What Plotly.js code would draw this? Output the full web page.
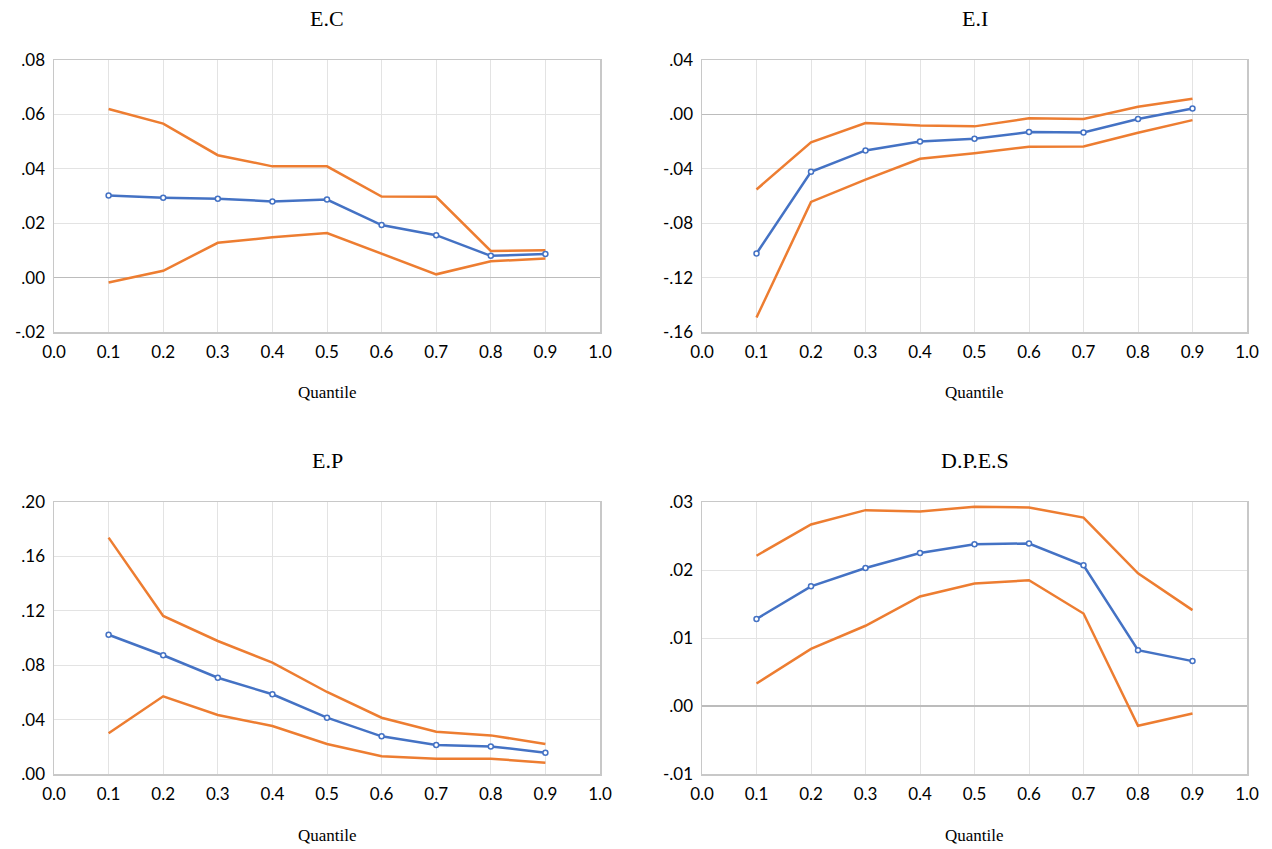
<!DOCTYPE html>
<html>
<head>
<meta charset="utf-8">
<script src="https://cdn.plot.ly/plotly-3.0.1.min.js"></script>
<style>
html,body{margin:0;padding:0;background:#fff;}
#chart{width:1272px;height:849px;}
</style>
</head>
<body>
<div id="chart"></div>
<script>
// ---- Data ----
const quantiles = [0.1, 0.2, 0.3, 0.4, 0.5, 0.6, 0.7, 0.8, 0.9];

const ecCoef  = [0.0302, 0.0294, 0.0290, 0.0280, 0.0287, 0.0193, 0.0156, 0.0080, 0.0087];
const ecUpper = [0.0620, 0.0566, 0.0450, 0.0409, 0.0409, 0.0298, 0.0297, 0.0098, 0.0101];
const ecLower = [-0.0018, 0.0025, 0.0128, 0.0148, 0.0164, 0.0087, 0.0012, 0.0060, 0.0070];

const eiCoef  = [-0.1023, -0.0422, -0.0265, -0.0199, -0.0179, -0.0130, -0.0133, -0.0034, 0.0044];
const eiUpper = [-0.0552, -0.0206, -0.0064, -0.0081, -0.0088, -0.0029, -0.0034, 0.0056, 0.0115];
const eiLower = [-0.1494, -0.0643, -0.0479, -0.0326, -0.0285, -0.0238, -0.0236, -0.0135, -0.0042];

const epCoef  = [0.1024, 0.0873, 0.0708, 0.0586, 0.0414, 0.0277, 0.0213, 0.0203, 0.0157];
const epUpper = [0.1738, 0.1162, 0.0978, 0.0819, 0.0603, 0.0414, 0.0311, 0.0284, 0.0221];
const epLower = [0.0299, 0.0571, 0.0434, 0.0353, 0.0221, 0.0130, 0.0113, 0.0113, 0.0083];

const dpesCoef  = [0.0128, 0.0176, 0.0203, 0.0225, 0.0238, 0.0239, 0.0207, 0.0082, 0.0066];
const dpesUpper = [0.0221, 0.0267, 0.0288, 0.0286, 0.0293, 0.0292, 0.0277, 0.0195, 0.0141];
const dpesLower = [0.0033, 0.0084, 0.0118, 0.0161, 0.0180, 0.0185, 0.0136, -0.0029, -0.0011];

const panelTitles = ['E.C', 'E.I', 'E.P', 'D.P.E.S'];
const xAxisTitle = 'Quantile';

const xTickVals = [0.0, 0.1, 0.2, 0.3, 0.4, 0.5, 0.6, 0.7, 0.8, 0.9, 1.0];
const xTickText = ['0.0', '0.1', '0.2', '0.3', '0.4', '0.5', '0.6', '0.7', '0.8', '0.9', '1.0'];

const ecTickVals = [-0.02, 0.00, 0.02, 0.04, 0.06, 0.08];
const ecTickText = ['-.02', '.00', '.02', '.04', '.06', '.08'];
const eiTickVals = [-0.16, -0.12, -0.08, -0.04, 0.00, 0.04];
const eiTickText = ['-.16', '-.12', '-.08', '-.04', '.00', '.04'];
const epTickVals = [0.00, 0.04, 0.08, 0.12, 0.16, 0.20];
const epTickText = ['.00', '.04', '.08', '.12', '.16', '.20'];
const dpesTickVals = [-0.01, 0.00, 0.01, 0.02, 0.03];
const dpesTickText = ['-.01', '.00', '.01', '.02', '.03'];

// ---- Styles ----
const BLUE = '#4472C4';
const ORANGE = '#ED7D31';
const W = 1272, H = 849;
const TICKFONT = {family: 'Lato, "Liberation Sans", sans-serif', size: 17, color: '#000'};
const SERIF = '"Liberation Serif", "Times New Roman", serif';

const panels = [
  {coef: ecCoef, up: ecUpper, lo: ecLower, tv: ecTickVals, tt: ecTickText, range: [-0.02, 0.08], px: [54, 600], py: [60, 332]},
  {coef: eiCoef, up: eiUpper, lo: eiLower, tv: eiTickVals, tt: eiTickText, range: [-0.16, 0.04], px: [702, 1247], py: [60, 332]},
  {coef: epCoef, up: epUpper, lo: epLower, tv: epTickVals, tt: epTickText, range: [0, 0.20], px: [54, 600], py: [502, 774]},
  {coef: dpesCoef, up: dpesUpper, lo: dpesLower, tv: dpesTickVals, tt: dpesTickText, range: [-0.01, 0.03], px: [702, 1247], py: [502, 774]}
];

const traces = [];
const layout = {
  width: W, height: H,
  margin: {l: 0, r: 0, t: 0, b: 0},
  paper_bgcolor: '#fff',
  plot_bgcolor: '#fff',
  showlegend: false,
  font: TICKFONT,
  annotations: []
};

panels.forEach((p, i) => {
  const n = i === 0 ? '' : String(i + 1);
  const xa = 'x' + n, ya = 'y' + n;
  traces.push({x: quantiles, y: p.up, xaxis: xa, yaxis: ya, mode: 'lines', line: {color: ORANGE, width: 2.5}});
  traces.push({x: quantiles, y: p.lo, xaxis: xa, yaxis: ya, mode: 'lines', line: {color: ORANGE, width: 2.5}});
  traces.push({x: quantiles, y: p.coef, xaxis: xa, yaxis: ya, mode: 'lines+markers',
    line: {color: BLUE, width: 2.5},
    marker: {symbol: 'circle', size: 5, color: '#fff', line: {color: BLUE, width: 1.5}}});

  const xd = [p.px[0] / W, p.px[1] / W];
  const yd = [(H - p.py[1]) / H, (H - p.py[0]) / H];
  layout['xaxis' + n] = {
    domain: xd, anchor: ya, range: [0, 1],
    tickvals: xTickVals, ticktext: xTickText,
    showgrid: true, gridcolor: '#e3e3e3', gridwidth: 1,
    zeroline: false, showline: true, mirror: true, linecolor: '#c8c8c8', linewidth: 1.5,
    ticks: '', ticklabelstandoff: 4, tickfont: TICKFONT
  };
  layout['yaxis' + n] = {
    domain: yd, anchor: xa, range: p.range,
    tickvals: p.tv, ticktext: p.tt,
    showgrid: true, gridcolor: '#e3e3e3', gridwidth: 1,
    zeroline: true, zerolinecolor: '#bcbcbc', zerolinewidth: 1.5,
    showline: true, mirror: true, linecolor: '#c8c8c8', linewidth: 1.5,
    ticks: '', ticklabelstandoff: 4, tickfont: TICKFONT
  };
  const cx = (p.px[0] + p.px[1]) / 2 / W;
  layout.annotations.push({
    text: panelTitles[i], xref: 'paper', yref: 'paper',
    x: cx, y: (H - (p.py[0] - 42)) / H, xanchor: 'center', yanchor: 'middle',
    showarrow: false, font: {family: SERIF, size: 22, color: '#000'}
  });
  layout.annotations.push({
    text: xAxisTitle, xref: 'paper', yref: 'paper',
    x: cx, y: (H - (p.py[1] + 61)) / H, xanchor: 'center', yanchor: 'middle',
    showarrow: false, font: {family: SERIF, size: 17, color: '#000'}
  });
});

Plotly.newPlot('chart', traces, layout, {displayModeBar: false, staticPlot: true});
</script>
</body>
</html>
